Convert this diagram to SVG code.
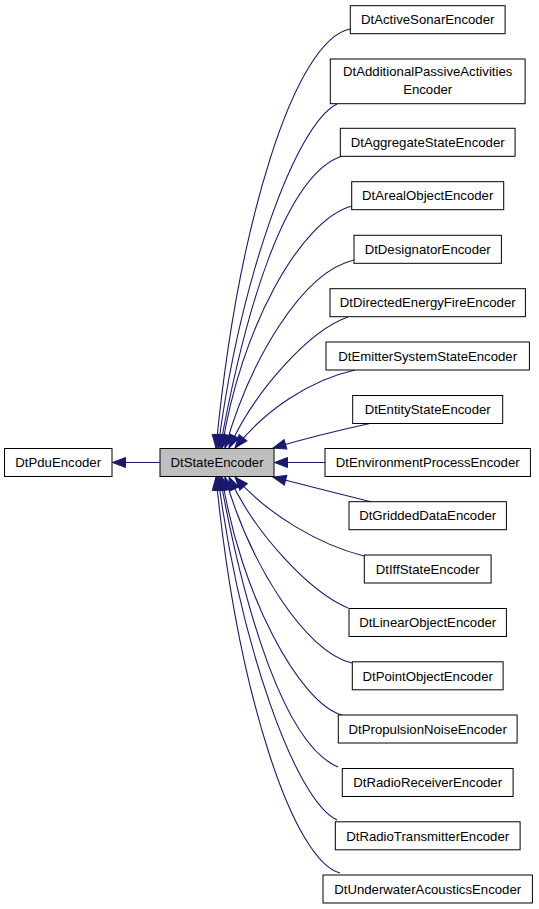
<svg xmlns="http://www.w3.org/2000/svg" width="539" height="909" viewBox="0 0 539 909">
<style>
.n rect{fill:#ffffff;stroke:#000000;stroke-width:1}
.cur rect{fill:#bfbfbf}
.n text{font-family:"Liberation Sans",Arial,Helvetica,sans-serif;font-size:13.2px;fill:#000000;text-anchor:middle}
.e path{fill:none;stroke:#191970;stroke-width:1.1;marker-end:url(#ah)}
</style>
<defs>
<marker id="ah" markerUnits="userSpaceOnUse" markerWidth="16" markerHeight="12" refX="13" refY="5" orient="auto" overflow="visible">
<path d="M0,0 L13,5 L0,10 Z" fill="#191970" stroke="#191970" stroke-width="1"/>
</marker>
</defs>
<rect width="539" height="909" fill="#ffffff"/>
<g id="connectors" class="e">
<path d="M160,462.5 L112.5,462.5"/>
<path d="M350,29 C295,40 238,220 216,448"/>
<path d="M337,104 C295,125 240,280 218,448"/>
<path d="M342,156 C285,175 245,310 220,448"/>
<path d="M352,206 C300,220 240,330 222,448"/>
<path d="M354,260 C302,272 250,360 225,448"/>
<path d="M348,317 C310,330 255,390 229,448"/>
<path d="M355,370 C310,380 265,410 235,448"/>
<path d="M372,423 C340,430 300,440 273,448"/>
<path d="M325,462.5 L274.5,462.5"/>
<path d="M372,502 C340,494 300,484 273,477"/>
<path d="M364,556 C320,545 268,515 235,477"/>
<path d="M348,608 C310,592 255,534 229,477"/>
<path d="M352,663 C305,652 250,564 225,477"/>
<path d="M342,715 C300,704 240,594 222,477"/>
<path d="M338,767 C285,745 245,614 220,477"/>
<path d="M337,820 C295,800 240,644 218,477"/>
<path d="M340,873 C295,862 238,700 216,477"/>
</g>
<g id="DtPduEncoder" class="n"><rect x="4.5" y="448.5" width="107.5" height="28"/><text x="58.2" y="467.2">DtPduEncoder</text></g>
<g id="DtStateEncoder" class="n cur"><rect x="160" y="448.5" width="114" height="28"/><text x="217" y="467.2">DtStateEncoder</text></g>
<g id="DtActiveSonarEncoder" class="n"><rect x="350.3" y="5.7" width="154.8" height="28"/><text x="427.7" y="24.4">DtActiveSonarEncoder</text></g>
<g id="DtAdditionalPassiveActivitiesEncoder" class="n"><rect x="330.3" y="59" width="194.8" height="44.7"/><text x="427.7" y="76.4">DtAdditionalPassiveActivities</text><text x="427.7" y="93.8">Encoder</text></g>
<g id="DtAggregateStateEncoder" class="n"><rect x="340.3" y="128.3" width="174.8" height="28"/><text x="427.7" y="147">DtAggregateStateEncoder</text></g>
<g id="DtArealObjectEncoder" class="n"><rect x="351.7" y="181.7" width="152" height="28"/><text x="427.7" y="200.4">DtArealObjectEncoder</text></g>
<g id="DtDesignatorEncoder" class="n"><rect x="354" y="235.3" width="147.4" height="28"/><text x="427.7" y="254">DtDesignatorEncoder</text></g>
<g id="DtDirectedEnergyFireEncoder" class="n"><rect x="330" y="288.7" width="195.4" height="28"/><text x="427.7" y="307.4">DtDirectedEnergyFireEncoder</text></g>
<g id="DtEmitterSystemStateEncoder" class="n"><rect x="326" y="342" width="203.4" height="28"/><text x="427.7" y="360.7">DtEmitterSystemStateEncoder</text></g>
<g id="DtEntityStateEncoder" class="n"><rect x="352.7" y="395.5" width="150" height="28"/><text x="427.7" y="414.2">DtEntityStateEncoder</text></g>
<g id="DtEnvironmentProcessEncoder" class="n"><rect x="325" y="448.5" width="205.4" height="28"/><text x="427.7" y="467.2">DtEnvironmentProcessEncoder</text></g>
<g id="DtGriddedDataEncoder" class="n"><rect x="349" y="501.7" width="157.4" height="28"/><text x="427.7" y="520.4">DtGriddedDataEncoder</text></g>
<g id="DtIffStateEncoder" class="n"><rect x="364.3" y="555" width="126.8" height="28"/><text x="427.7" y="573.7">DtIffStateEncoder</text></g>
<g id="DtLinearObjectEncoder" class="n"><rect x="349" y="608.5" width="157.4" height="28"/><text x="427.7" y="627.2">DtLinearObjectEncoder</text></g>
<g id="DtPointObjectEncoder" class="n"><rect x="352.3" y="661.8" width="150.8" height="28"/><text x="427.7" y="680.5">DtPointObjectEncoder</text></g>
<g id="DtPropulsionNoiseEncoder" class="n"><rect x="338.3" y="715" width="178.8" height="28"/><text x="427.7" y="733.7">DtPropulsionNoiseEncoder</text></g>
<g id="DtRadioReceiverEncoder" class="n"><rect x="342.3" y="768.5" width="170.8" height="28"/><text x="427.7" y="787.2">DtRadioReceiverEncoder</text></g>
<g id="DtRadioTransmitterEncoder" class="n"><rect x="335.3" y="821.8" width="184.8" height="28"/><text x="427.7" y="840.5">DtRadioTransmitterEncoder</text></g>
<g id="DtUnderwaterAcousticsEncoder" class="n"><rect x="323" y="875" width="209.4" height="28"/><text x="427.7" y="893.7">DtUnderwaterAcousticsEncoder</text></g>
</svg>
